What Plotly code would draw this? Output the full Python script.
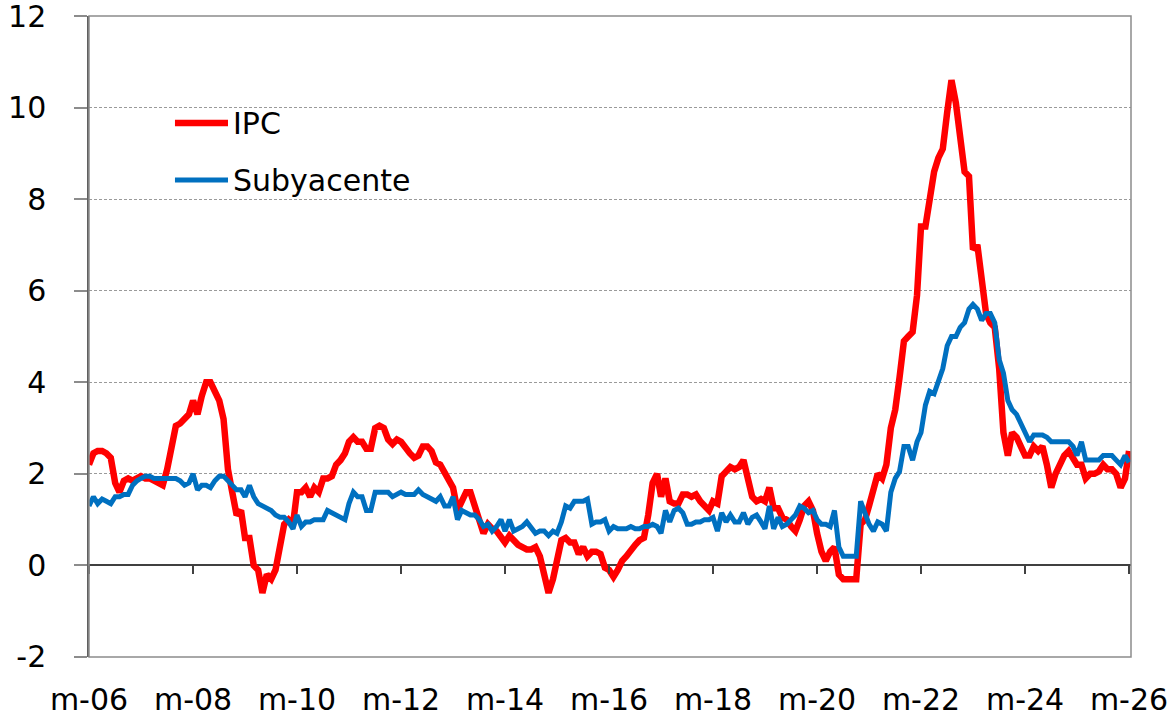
import pandas as pd
import plotly.graph_objects as go

# monthly data, mar-2006 .. mar-2026
meses = pd.date_range("2006-03-01", periods=241, freq="MS")

ipc = (
    [2.2, 2.45, 2.5, 2.5, 2.45, 2.35, 1.8, 1.6, 1.85, 1.9]                      # 2006 (mar-dic)
    + [1.85, 1.9, 1.95, 1.9, 1.9, 1.85, 1.8, 1.75, 2.1, 2.6, 3.05, 3.1]         # 2007
    + [3.2, 3.3, 3.6, 3.3, 3.7, 4.0, 4.0, 3.8, 3.6, 3.2, 2.1, 1.6]              # 2008
    + [1.1, 1.2, 0.6, 0.6, 0.0, -0.1, -0.6, -0.2, -0.3, -0.1, 0.5, 0.9]         # 2009
    + [1.0, 0.9, 1.6, 1.6, 1.7, 1.5, 1.7, 1.6, 1.9, 1.9, 1.95, 2.2]             # 2010
    + [2.3, 2.45, 2.7, 2.8, 2.7, 2.7, 2.55, 2.55, 3.0, 3.05, 3.0, 2.75]         # 2011
    + [2.65, 2.75, 2.7, 2.55, 2.45, 2.35, 2.4, 2.6, 2.6, 2.5, 2.25, 2.2]        # 2012
    + [2.0, 1.8, 1.7, 1.2, 1.4, 1.6, 1.6, 1.3, 1.1, 0.7, 0.9, 0.8]              # 2013
    + [0.75, 0.6, 0.5, 0.65, 0.55, 0.45, 0.4, 0.35, 0.35, 0.4, 0.2, -0.15]      # 2014
    + [-0.6, -0.3, 0.1, 0.55, 0.6, 0.5, 0.5, 0.25, 0.4, 0.2, 0.3, 0.3]          # 2015
    + [0.25, -0.05, -0.1, -0.25, -0.1, 0.1, 0.2, 0.35, 0.45, 0.55, 0.6, 1.1]    # 2016
    + [1.8, 2.0, 1.5, 1.9, 1.4, 1.35, 1.35, 1.55, 1.55, 1.5, 1.55, 1.4]         # 2017
    + [1.3, 1.2, 1.4, 1.35, 1.95, 2.05, 2.15, 2.1, 2.15, 2.3, 1.9, 1.5]         # 2018
    + [1.4, 1.45, 1.4, 1.7, 1.25, 1.25, 1.05, 1.0, 0.85, 0.75, 1.0, 1.3]        # 2019
    + [1.4, 1.2, 0.7, 0.3, 0.1, 0.3, 0.4, -0.2, -0.3, -0.3, -0.3, -0.3]         # 2020
    + [0.9, 1.0, 1.3, 1.6, 2.0, 1.9, 2.2, 3.0, 3.4, 4.1, 4.9, 5.0]              # 2021
    + [5.1, 5.9, 7.4, 7.4, 8.1, 8.6, 8.9, 9.1, 9.9, 10.6, 10.1, 9.2]            # 2022
    + [8.6, 8.5, 6.9, 7.0, 6.1, 5.5, 5.3, 5.2, 4.3, 2.9, 2.4, 2.9]              # 2023
    + [2.8, 2.6, 2.4, 2.4, 2.6, 2.5, 2.6, 2.2, 1.7, 2.0, 2.2, 2.4]              # 2024
    + [2.5, 2.3, 2.2, 2.2, 1.9, 2.0, 2.0, 2.05, 2.2, 2.1, 2.1, 2.0]             # 2025
    + [1.7, 1.9, 2.5]                                                           # 2026
)

subyacente = (
    [1.3, 1.5, 1.35, 1.45, 1.4, 1.35, 1.5, 1.5, 1.55, 1.55]
    + [1.75, 1.85, 1.9, 1.95, 1.95, 1.9, 1.9, 1.9, 1.9, 1.9, 1.9, 1.85]
    + [1.75, 1.8, 2.0, 1.65, 1.75, 1.75, 1.7, 1.85, 1.95, 1.95, 1.85, 1.75]
    + [1.65, 1.65, 1.5, 1.75, 1.5, 1.35, 1.3, 1.25, 1.2, 1.1, 1.05, 1.05]
    + [0.95, 0.8, 1.1, 0.85, 0.95, 0.95, 1.0, 1.0, 1.0, 1.2, 1.15, 1.1]
    + [1.05, 1.0, 1.35, 1.6, 1.5, 1.5, 1.2, 1.2, 1.6, 1.6, 1.6, 1.6]
    + [1.5, 1.55, 1.6, 1.55, 1.55, 1.55, 1.65, 1.55, 1.5, 1.45, 1.4, 1.5]
    + [1.3, 1.3, 1.5, 1.0, 1.2, 1.15, 1.1, 1.1, 1.0, 0.85, 0.9, 0.75]
    + [0.85, 1.0, 0.75, 1.0, 0.75, 0.8, 0.85, 0.95, 0.8, 0.7, 0.75, 0.75]
    + [0.65, 0.75, 0.7, 0.95, 1.3, 1.25, 1.4, 1.4, 1.4, 1.45, 0.9, 0.95]
    + [0.95, 1.0, 0.75, 0.85, 0.8, 0.8, 0.8, 0.85, 0.8, 0.8, 0.85, 0.85]
    + [0.9, 0.85, 0.7, 1.2, 0.95, 1.2, 1.25, 1.15, 0.9, 0.9, 0.95, 0.95]
    + [1.0, 1.0, 1.05, 0.75, 1.15, 0.95, 1.1, 0.95, 0.95, 1.15, 0.9, 1.05]
    + [1.1, 0.95, 0.8, 1.3, 0.8, 1.05, 0.85, 0.9, 1.0, 1.1, 1.3, 1.25]
    + [1.15, 1.2, 1.0, 0.9, 0.9, 0.85, 1.2, 0.4, 0.2, 0.2, 0.2, 0.2]
    + [1.4, 1.1, 0.9, 0.75, 0.95, 0.9, 0.75, 1.6, 1.9, 2.05, 2.6, 2.6]
    + [2.3, 2.7, 2.9, 3.5, 3.8, 3.75, 4.0, 4.3, 4.8, 5.0, 5.0, 5.2]
    + [5.3, 5.6, 5.7, 5.6, 5.35, 5.5, 5.5, 5.3, 4.5, 4.2, 3.6, 3.4]
    + [3.3, 3.1, 2.9, 2.7, 2.85, 2.85, 2.85, 2.8, 2.7, 2.7, 2.7, 2.7]
    + [2.7, 2.6, 2.4, 2.7, 2.3, 2.3, 2.3, 2.3, 2.4, 2.4, 2.4, 2.3]
    + [2.2, 2.4, 2.25]
)

tick_fechas = ["2006-03-01", "2008-03-01", "2010-03-01", "2012-03-01", "2014-03-01", "2016-03-01",
               "2018-03-01", "2020-03-01", "2022-03-01", "2024-03-01", "2026-03-01"]
tick_labels = ["m-06", "m-08", "m-10", "m-12", "m-14", "m-16", "m-18", "m-20", "m-22", "m-24", "m-26"]
y_ticks = [-2, 0, 2, 4, 6, 8, 10, 12]
y_labels = ["-2", "0", "2", "4", "6", "8", "10", "12"]

ROJO = "#FF0000"
AZUL = "#0070C0"
BORDE = "#8c8c8c"
FUENTE = "DejaVu Sans"
rango_x = ["2006-03-01", "2026-03-15"]

fig = go.Figure()
fig.add_trace(go.Scatter(x=meses, y=ipc, mode="lines", name="IPC",
                         line=dict(color=ROJO, width=6.5), showlegend=False))
fig.add_trace(go.Scatter(x=meses, y=subyacente, mode="lines", name="Subyacente",
                         line=dict(color=AZUL, width=5), showlegend=False))
# axis carrying the tick marks on the zero line
fig.add_trace(go.Scatter(x=[meses[0]], y=[None], xaxis="x2", showlegend=False, hoverinfo="skip"))

fig.update_layout(
    width=1176, height=718,
    margin=dict(l=89, r=45, t=16, b=61),
    paper_bgcolor="white", plot_bgcolor="white",
    font=dict(family=FUENTE, size=30, color="black"),
    xaxis=dict(type="date", range=rango_x, tickvals=tick_fechas, ticktext=tick_labels,
               showgrid=False, zeroline=False, showline=False,
               ticks="", ticklabelstandoff=22, automargin=False, ticklabeloverflow="allow",
               tickfont=dict(family=FUENTE, size=30, color="black")),
    xaxis2=dict(type="date", range=rango_x, tickvals=tick_fechas, overlaying="x",
                anchor="free", position=2 / 14, showticklabels=False, showgrid=False,
                showline=False, zeroline=False, ticks="outside", ticklen=8,
                tickwidth=1.5, tickcolor="#404040", automargin=False),
    yaxis=dict(range=[-2.0005, 12.0005], tickvals=y_ticks, ticktext=y_labels, showgrid=True,
               gridcolor="#9a9a9a", gridwidth=1, griddash="3px,2px", zeroline=True,
               zerolinecolor="#404040", zerolinewidth=1.5, showline=True, linecolor="#606060",
               linewidth=1.5, ticks="outside", ticklen=13, tickcolor=BORDE,
               tickwidth=1.5, ticklabelstandoff=22, automargin=False, ticklabeloverflow="allow",
               tickfont=dict(family=FUENTE, size=30, color="black")),
)

# plot-area border
fig.add_shape(type="rect", xref="paper", yref="paper", x0=0, y0=0, x1=1, y1=1,
              line=dict(color=BORDE, width=1.5), layer="above")

# legend drawn inside the plot area, as in the original
leyenda = [("IPC", ROJO, 6.5, 0.833), ("Subyacente", AZUL, 5, 0.744)]
for nombre, color, ancho, yy in leyenda:
    fig.add_shape(type="line", xref="paper", yref="paper", x0=0.0825, x1=0.1334, y0=yy, y1=yy,
                  line=dict(color=color, width=ancho))
    fig.add_annotation(xref="paper", yref="paper", x=0.1363, y=yy, text=nombre, showarrow=False,
                       xanchor="left", yanchor="middle",
                       font=dict(family=FUENTE, size=30, color="black"))

fig.write_html("out.html", config={"displayModeBar": False},
               post_script="document.body.style.margin='0px';")
